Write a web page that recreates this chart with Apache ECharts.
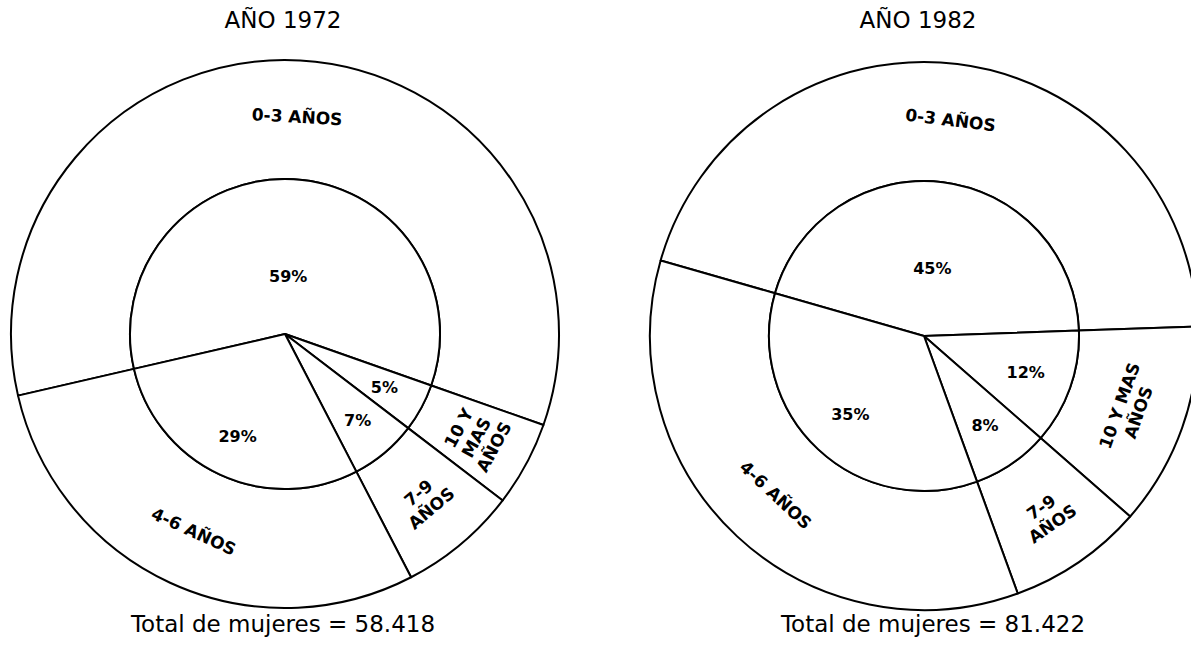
<!DOCTYPE html>
<html>
<head>
<meta charset="utf-8">
<title>Mujeres por años</title>
<script src="https://cdn.jsdelivr.net/npm/echarts@6/dist/echarts.min.js"></script>
<style>
  html, body { margin: 0; padding: 0; background: #fff; }
  #chart { width: 1191px; height: 647px; }
</style>
</head>
<body>
<div id="chart"></div>
<script>
// datos
const names1972 = ['0-3 AÑOS', '10 Y\nMAS\nAÑOS', '7-9\nAÑOS', '4-6 AÑOS'];
const names1982 = ['0-3 AÑOS', '10 Y MAS\nAÑOS', '7-9\nAÑOS', '4-6 AÑOS'];
const shares1972 = [59, 5, 7, 29];
const shares1982 = [45, 12, 8, 35];
const years = ['AÑO 1972', 'AÑO 1982'];
const totals = ['58.418', '81.422'];

const R_IN = 155;
const R_OUT = 274;
const FONT = 'DejaVu Sans';

function pieSeries(values, names, center, startAngle, topR, restR) {
  const data = values.map((v, i) => ({ name: names[i], value: v }));
  const base = {
    type: 'pie',
    center: center,
    startAngle: startAngle,
    clockwise: true,
    silent: true,
    animation: false,
    avoidLabelOverlap: false,
    labelLine: { show: false },
    emphasis: { disabled: true }
  };
  const pctLabel = {
    show: true,
    position: 'inside',
    formatter: '{c}%',
    color: '#000',
    fontFamily: FONT,
    fontWeight: 'bold',
    fontSize: 16
  };
  return [
    // anillo exterior con los nombres
    Object.assign({}, base, {
      radius: [R_IN, R_OUT],
      data: data,
      itemStyle: { color: '#fff', borderColor: '#000', borderWidth: 2 },
      label: {
        show: true,
        position: 'inside',
        rotate: 'tangential',
        formatter: '{b}',
        color: '#000',
        fontFamily: FONT,
        fontWeight: 'bold',
        fontSize: 17,
        lineHeight: 20
      }
    }),
    // circulo interior
    Object.assign({}, base, {
      radius: [0, R_IN],
      data: data,
      itemStyle: { color: '#fff', borderColor: '#000', borderWidth: 2 },
      label: { show: false }
    }),
    // porcentajes (primer sector mas cerca del centro)
    Object.assign({}, base, {
      radius: [0, topR],
      data: data.map((d, i) => Object.assign({}, d, { label: { show: i === 0 } })),
      itemStyle: { color: 'rgba(0,0,0,0)', borderWidth: 0 },
      label: pctLabel
    }),
    Object.assign({}, base, {
      radius: [0, restR],
      data: data.map((d, i) => Object.assign({}, d, { label: { show: i !== 0 } })),
      itemStyle: { color: 'rgba(0,0,0,0)', borderWidth: 0 },
      label: pctLabel
    })
  ];
}

function caption(text, x, y) {
  return {
    type: 'text',
    x: x,
    y: y,
    silent: true,
    style: {
      text: text,
      align: 'center',
      verticalAlign: 'middle',
      fill: '#000',
      fontFamily: FONT,
      fontSize: 23
    }
  };
}

const chart = echarts.init(document.getElementById('chart'), null, { renderer: 'svg' });

chart.setOption({
  backgroundColor: '#fff',
  animation: false,
  graphic: [
    caption(years[0], 283, 20),
    caption(years[1], 918, 20),
    caption('Total de mujeres = ' + totals[0], 283, 624),
    caption('Total de mujeres = ' + totals[1], 933, 624)
  ],
  series: [].concat(
    pieSeries(shares1972, names1972, [285, 334], 193, 110, 220),
    pieSeries(shares1982, names1982, [924, 336], 164, 130, 210)
  )
});
</script>
</body>
</html>
